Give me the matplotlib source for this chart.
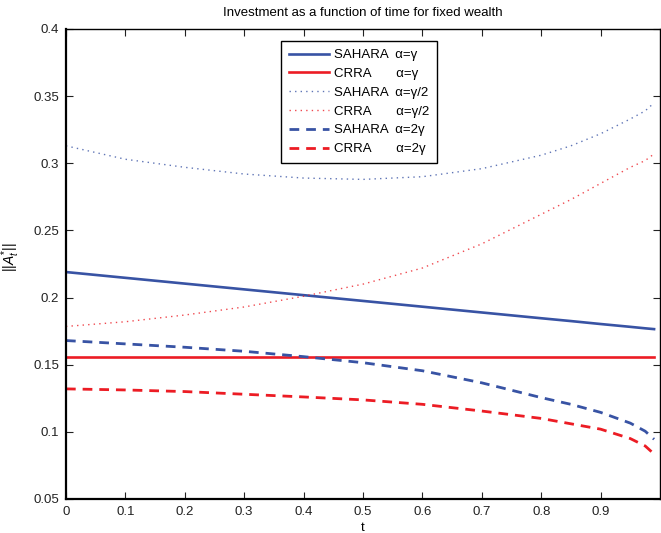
import numpy as np
import matplotlib.pyplot as plt

plt.rcParams['font.family'] = ['Liberation Sans', 'DejaVu Sans']
plt.rcParams['mathtext.fontset'] = 'custom'
plt.rcParams['mathtext.rm'] = 'Liberation Sans'
plt.rcParams['mathtext.it'] = 'Liberation Sans:italic'

# valeurs
t = [0.0, 0.1, 0.2, 0.3, 0.4, 0.5, 0.6, 0.7, 0.8, 0.85, 0.9, 0.95, 0.975, 0.99]
sahara_g = [0.219, 0.2147, 0.2104, 0.2061, 0.2018, 0.1975, 0.1932, 0.1889, 0.1846, 0.1825,
            0.1803, 0.1782, 0.1771, 0.1765]
crra_g = [0.156] * len(t)
sahara_g2 = [0.313, 0.303, 0.297, 0.292, 0.289, 0.288, 0.290, 0.296, 0.306, 0.313,
             0.322, 0.333, 0.339, 0.345]
crra_g2 = [0.1785, 0.182, 0.187, 0.193, 0.201, 0.210, 0.222, 0.240, 0.262, 0.273,
           0.285, 0.297, 0.302, 0.307]
sahara_2g = [0.168, 0.1655, 0.163, 0.160, 0.156, 0.1515, 0.1455, 0.1365, 0.1255, 0.1205,
             0.1145, 0.1065, 0.1005, 0.0945]
crra_2g = [0.132, 0.1312, 0.130, 0.128, 0.126, 0.1238, 0.1205, 0.1155, 0.110, 0.106,
           0.102, 0.095, 0.0895, 0.0835]

bleu = '#3853a4'
rouge = '#ec1c24'

fig = plt.figure(figsize=(6.61, 5.33), dpi=100)
ax = fig.add_axes([0.0998, 0.0638, 0.8987, 0.8818])

ax.plot(t, sahara_g, color=bleu, lw=1.9, label='SAHARA  α=γ')
ax.plot(t, crra_g, color=rouge, lw=1.9, label='CRRA       α=γ')
ax.plot(t, sahara_g2, color=bleu, lw=1.0, ls=(0, (1, 3)), alpha=0.8, label='SAHARA  α=γ/2')
ax.plot(t, crra_g2, color=rouge, lw=1.0, ls=(0, (1, 3)), alpha=0.8, label='CRRA       α=γ/2')
ax.plot(t, sahara_2g, color=bleu, lw=2.0, ls=(0, (3.5, 2.5)), label='SAHARA  α=2γ')
ax.plot(t, crra_2g, color=rouge, lw=2.0, ls=(0, (3.5, 2.5)), label='CRRA       α=2γ')

ax.set_xlim(0, 1)
ax.set_ylim(0.05, 0.4)
ax.set_xticks(np.arange(0, 1.0, 0.1))
ax.set_xticklabels(['0', '0.1', '0.2', '0.3', '0.4', '0.5', '0.6', '0.7', '0.8', '0.9'])
ax.set_yticks(np.arange(0.05, 0.401, 0.05))
ax.set_yticklabels(['0.05', '0.1', '0.15', '0.2', '0.25', '0.3', '0.35', '0.4'])
ax.tick_params(direction='in', length=5, width=0.8, top=True, right=True,
               labelsize=9.5, colors='#222222', pad=5)
for s in ax.spines.values():
    s.set_linewidth(1.0)
ax.spines['left'].set_linewidth(1.6)
ax.spines['bottom'].set_linewidth(1.6)

ax.set_xlabel('t', fontsize=9.5, labelpad=3)
ax.set_ylabel(r'$||A^{*}_{t}||$', fontsize=10)
ax.yaxis.set_label_coords(-0.074, 0.515)
ax.set_title('Investment as a function of time for fixed wealth', fontsize=9.5, pad=9)

leg = ax.legend(loc='upper left', bbox_to_anchor=(0.362, 0.9745), fontsize=9.5,
                handlelength=3.0, handletextpad=0.4, fancybox=False, framealpha=1,
                edgecolor='black', borderpad=0.6, labelspacing=0.5, borderaxespad=0)
leg.get_frame().set_linewidth(1.0)

fig.savefig('out.png', dpi=100)
